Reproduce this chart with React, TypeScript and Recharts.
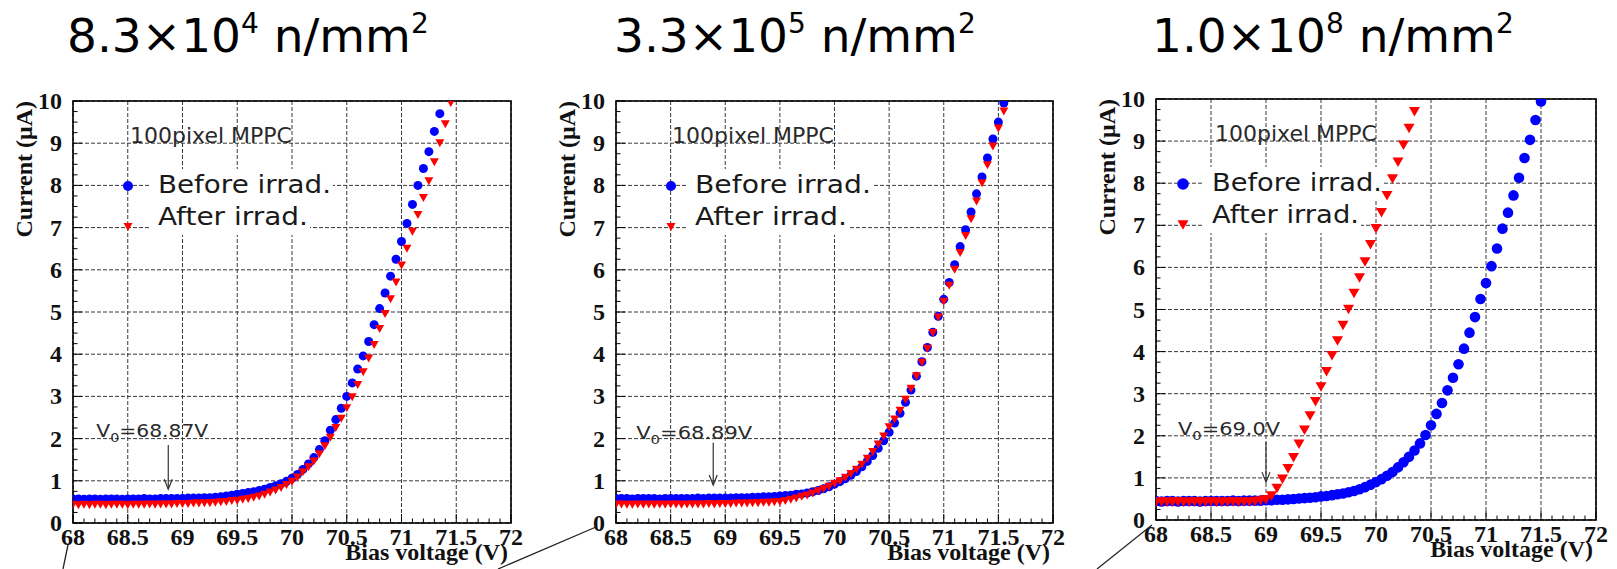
import React from "react";
import {
  ScatterChart,
  Scatter,
  XAxis,
  YAxis,
  CartesianGrid,
  ReferenceArea,
  ReferenceLine,
} from "recharts";

// Bias voltage scan points (V)
const VOLTS = [
  68, 68.05, 68.1, 68.15, 68.2, 68.25, 68.3, 68.35, 68.4, 68.45,
  68.5, 68.55, 68.6, 68.65, 68.7, 68.75, 68.8, 68.85, 68.9, 68.95,
  69, 69.05, 69.1, 69.15, 69.2, 69.25, 69.3, 69.35, 69.4, 69.45,
  69.5, 69.55, 69.6, 69.65, 69.7, 69.75, 69.8, 69.85, 69.9, 69.95,
  70, 70.05, 70.1, 70.15, 70.2, 70.25, 70.3, 70.35, 70.4, 70.45,
  70.5, 70.55, 70.6, 70.65, 70.7, 70.75, 70.8, 70.85, 70.9, 70.95,
  71, 71.05, 71.1, 71.15, 71.2, 71.25, 71.3, 71.35, 71.4, 71.45,
  71.5, 71.55,
];

// Current (uA), 8.3e4 n/mm2
const BEFORE_LOW = [
  0.57, 0.57, 0.56, 0.57, 0.57, 0.56, 0.57, 0.57, 0.57, 0.56,
  0.57, 0.57, 0.57, 0.58, 0.57, 0.57, 0.58, 0.58, 0.58, 0.58,
  0.58, 0.59, 0.59, 0.59, 0.6, 0.6, 0.61, 0.62, 0.64, 0.66,
  0.68, 0.7, 0.72, 0.74, 0.77, 0.8, 0.84, 0.88, 0.93, 0.99,
  1.06, 1.15, 1.27, 1.4, 1.55, 1.74, 1.95, 2.2, 2.45, 2.72,
  3.0, 3.32, 3.65, 3.96, 4.3, 4.7, 5.08, 5.45, 5.85, 6.25,
  6.67, 7.1, 7.55, 8.0, 8.4, 8.8, 9.28, 9.7,
];
const AFTER_LOW = [
  0.43, 0.42, 0.43, 0.42, 0.43, 0.43, 0.42, 0.43, 0.43, 0.43,
  0.42, 0.43, 0.43, 0.43, 0.44, 0.43, 0.44, 0.44, 0.44, 0.45,
  0.45, 0.45, 0.46, 0.46, 0.47, 0.47, 0.48, 0.49, 0.5, 0.52,
  0.53, 0.55, 0.57, 0.6, 0.63, 0.67, 0.72, 0.77, 0.83, 0.9,
  0.98, 1.08, 1.2, 1.32, 1.46, 1.63, 1.82, 2.02, 2.25, 2.47,
  2.72, 2.98, 3.27, 3.57, 3.9, 4.22, 4.6, 4.95, 5.3, 5.7,
  6.1, 6.5, 6.9, 7.3, 7.7, 8.1, 8.55, 9.0, 9.45, 9.95,
];

// Current (uA), 3.3e5 n/mm2
const BEFORE_MID = [
  0.58, 0.58, 0.58, 0.57, 0.58, 0.58, 0.58, 0.58, 0.57, 0.58,
  0.58, 0.58, 0.58, 0.58, 0.58, 0.59, 0.58, 0.59, 0.59, 0.59,
  0.59, 0.59, 0.6, 0.6, 0.6, 0.61, 0.61, 0.62, 0.62, 0.63,
  0.64, 0.65, 0.66, 0.68, 0.69, 0.71, 0.74, 0.77, 0.81, 0.86,
  0.92, 0.98, 1.05, 1.13, 1.22, 1.33, 1.46, 1.6, 1.77, 1.95,
  2.15, 2.37, 2.6, 2.86, 3.15, 3.48, 3.82, 4.16, 4.52, 4.9,
  5.3, 5.7, 6.12, 6.55, 6.95, 7.37, 7.8, 8.2, 8.65, 9.1,
  9.5, 9.95,
];
const AFTER_MID = [
  0.43, 0.44, 0.43, 0.43, 0.44, 0.43, 0.44, 0.43, 0.44, 0.43,
  0.44, 0.44, 0.43, 0.44, 0.44, 0.44, 0.44, 0.45, 0.44, 0.45,
  0.45, 0.45, 0.46, 0.46, 0.46, 0.47, 0.47, 0.48, 0.48, 0.49,
  0.5, 0.52, 0.55, 0.58, 0.62, 0.65, 0.7, 0.75, 0.8, 0.86,
  0.93, 0.99, 1.07, 1.16, 1.26, 1.38, 1.52, 1.68, 1.86, 2.05,
  2.27, 2.45, 2.66, 2.92, 3.18, 3.48, 3.8, 4.13, 4.5, 4.87,
  5.24, 5.62, 6.0, 6.4, 6.8, 7.2, 7.62, 8.05, 8.48, 8.92,
  9.35, 9.75,
];

// Current (uA), 1.0e8 n/mm2
const BEFORE_HIGH = [
  0.45, 0.44, 0.45, 0.45, 0.44, 0.45, 0.45, 0.45, 0.44, 0.45,
  0.45, 0.45, 0.45, 0.45, 0.46, 0.45, 0.46, 0.46, 0.46, 0.46,
  0.47, 0.47, 0.48, 0.48, 0.49, 0.5, 0.51, 0.52, 0.53, 0.54,
  0.56, 0.57, 0.59, 0.61, 0.63, 0.66, 0.69, 0.73, 0.78, 0.84,
  0.9, 0.97, 1.05, 1.14, 1.25, 1.37, 1.5, 1.65, 1.82, 2.02,
  2.25, 2.52, 2.78, 3.08, 3.38, 3.7, 4.07, 4.45, 4.82, 5.25,
  5.63, 6.03, 6.45, 6.92, 7.3, 7.71, 8.13, 8.6, 9.03, 9.5,
  9.94,
];
const AFTER_HIGH = [
  0.42, 0.43, 0.42, 0.42, 0.43, 0.42, 0.42, 0.43, 0.42, 0.42,
  0.43, 0.42, 0.42, 0.43, 0.43, 0.42, 0.43, 0.43, 0.44, 0.45,
  0.48, 0.57, 0.75, 0.97, 1.22, 1.48, 1.8, 2.13, 2.47, 2.81,
  3.16, 3.52, 3.9, 4.25, 4.62, 5.0, 5.38, 5.75, 6.13, 6.54,
  6.92, 7.3, 7.7, 8.1, 8.5, 8.9, 9.3, 9.7,
];

const MANTISSAS = ["8.3", "3.3", "1.0"];
const EXPONENTS = ["4", "5", "8"];
const V0_VALUES = [68.87, 68.89, 69.0];
const V0_TEXT = ["68.87V", "68.89V", "69.0V"];

const X_MAJOR = [68, 68.5, 69, 69.5, 70, 70.5, 71, 71.5, 72];
const Y_MAJOR = [0, 1, 2, 3, 4, 5, 6, 7, 8, 9, 10];
const X_MINOR = [
  68.1, 68.2, 68.3, 68.4, 68.6, 68.7, 68.8, 68.9,
  69.1, 69.2, 69.3, 69.4, 69.6, 69.7, 69.8, 69.9,
  70.1, 70.2, 70.3, 70.4, 70.6, 70.7, 70.8, 70.9,
  71.1, 71.2, 71.3, 71.4, 71.6, 71.7, 71.8, 71.9,
];
const Y_MINOR = [
  0.25, 0.5, 0.75, 1.25, 1.5, 1.75, 2.25, 2.5, 2.75, 3.25, 3.5, 3.75,
  4.25, 4.5, 4.75, 5.25, 5.5, 5.75, 6.25, 6.5, 6.75, 7.25, 7.5, 7.75,
  8.25, 8.5, 8.75, 9.25, 9.5, 9.75,
];

const SERIES = [
  [BEFORE_LOW, AFTER_LOW],
  [BEFORE_MID, AFTER_MID],
  [BEFORE_HIGH, AFTER_HIGH],
];

const BLUE = "#0000ff";
const RED = "#ff0000";
const SERIF = "'Liberation Serif', 'Times New Roman', serif";
const SANS = "'DejaVu Sans', Verdana, sans-serif";
const TICK_GAP = 6;

// per-panel placement
const LAYOUT = [
  {
    left: 0, width: 560, margin: { top: 101, right: 49, bottom: 6, left: 23 },
    titleX: 67, dot: 4.5, triW: 9, triH: 8,
    markX: 55, textX: 85, legendFont: 25.5, beforeLen: 173, afterLen: 150, mppcX: 57,
    arrowTop: 1.85, arrowTip: 0.8, v0dx: -72, v0dy: -8, v0Len: 112,
  },
  {
    left: 540, width: 540, margin: { top: 101, right: 27, bottom: 6, left: 26 },
    titleX: 614, dot: 4.5, triW: 9, triH: 8,
    markX: 55, textX: 79, legendFont: 25.5, beforeLen: 176, afterLen: 152, mppcX: 56,
    arrowTop: 1.9, arrowTip: 0.9, v0dx: -77, v0dy: -4, v0Len: 116,
  },
  {
    left: 1086, width: 531, margin: { top: 99, right: 21, bottom: 9, left: 20 },
    titleX: 1152, dot: 5.3, triW: 11, triH: 9.5,
    markX: 27, textX: 56, legendFont: 25, beforeLen: 170, afterLen: 147, mppcX: 59,
    arrowTop: 1.85, arrowTip: 0.9, v0dx: -88, v0dy: -7, v0Len: 102,
  },
];

const toPoints = (ys: number[]) => ys.map((y, i) => ({ x: VOLTS[i], y }));

function XTick(props: any) {
  const { x, y, payload } = props;
  const axisY = y - TICK_GAP;
  return (
    <g>
      <line x1={x} x2={x} y1={axisY} y2={axisY - 9} stroke="#000" strokeWidth={1} />
      <text x={x} y={axisY + 22} textAnchor="middle" fontFamily={SERIF} fontWeight="bold" fontSize={24} fill="#111">
        {String(payload.value)}
      </text>
    </g>
  );
}

function YTick(props: any) {
  const { x, y, payload } = props;
  const axisX = x + TICK_GAP;
  return (
    <g>
      <line x1={axisX} x2={axisX + 9} y1={y} y2={y} stroke="#000" strokeWidth={1} />
      <text x={axisX - 11} y={y + 8} textAnchor="end" fontFamily={SERIF} fontWeight="bold" fontSize={24} fill="#111">
        {String(payload.value)}
      </text>
    </g>
  );
}

// short inward tick at the bottom / left edge of a full-height reference line
const minorXTick = (p: any) => {
  const yb = Math.max(p.y1, p.y2);
  return <line x1={p.x1} x2={p.x1} y1={yb} y2={yb - 4.5} stroke="#000" strokeWidth={1} />;
};
const minorYTick = (p: any) => {
  const xl = Math.min(p.x1, p.x2);
  return <line x1={xl} x2={xl + 4.5} y1={p.y1} y2={p.y1} stroke="#000" strokeWidth={1} />;
};

const circleShape = (r: number) => (p: any) => <circle cx={p.cx} cy={p.cy} r={r} fill={BLUE} />;
const triangleShape = (w: number, h: number) => (p: any) => (
  <polygon
    points={`${p.cx - w / 2},${p.cy - h / 2} ${p.cx + w / 2},${p.cy - h / 2} ${p.cx},${p.cy + h / 2}`}
    fill={RED}
  />
);

function Panel({ idx }: { idx: number }) {
  const L = LAYOUT[idx];
  const [before, after] = SERIES[idx];

  // legend block drawn relative to the plot area
  const legendShape = (p: any) => {
    const x0 = p.x;
    const y0 = p.y;
    const tx = x0 + L.textX;
    const mx = x0 + L.markX;
    return (
      <g>
        <text x={x0 + L.mppcX} y={y0 + 42} fontFamily={SANS} fontSize={21} fill="#2a2a2a" textLength={162} lengthAdjust="spacingAndGlyphs">
          100pixel MPPC
        </text>
        <rect x={tx - 8} y={y0 + 68} width={L.beforeLen + 10} height={32} fill="#fff" />
        <rect x={tx - 8} y={y0 + 100} width={L.afterLen + 10} height={34} fill="#fff" />
        <circle cx={mx} cy={y0 + 85} r={L.dot + 0.5} fill={BLUE} />
        <polygon
          points={`${mx - L.triW / 2},${y0 + 126 - L.triH / 2} ${mx + L.triW / 2},${y0 + 126 - L.triH / 2} ${mx},${y0 + 126 + L.triH / 2}`}
          fill={RED}
        />
        <text x={tx} y={y0 + 92} fontFamily={SANS} fontSize={L.legendFont} fill="#1a1a1a" textLength={L.beforeLen} lengthAdjust="spacingAndGlyphs">
          Before irrad.
        </text>
        <text x={tx} y={y0 + 124} fontFamily={SANS} fontSize={L.legendFont} fill="#1a1a1a" textLength={L.afterLen} lengthAdjust="spacingAndGlyphs">
          After irrad.
        </text>
      </g>
    );
  };

  // V0 arrow with its label
  const arrowShape = (p: any) => (
    <g>
      <line x1={p.x1} y1={p.y1} x2={p.x2} y2={p.y2} stroke="#333" strokeWidth={1.2} />
      <polyline
        points={`${p.x2 - 4},${p.y2 - 10} ${p.x2},${p.y2} ${p.x2 + 4},${p.y2 - 10}`}
        fill="none"
        stroke="#333"
        strokeWidth={1.2}
      />
      <text x={p.x1 + L.v0dx} y={p.y1 + L.v0dy} fontFamily={SANS} fontSize={17} fill="#2a2a2a" textLength={L.v0Len} lengthAdjust="spacingAndGlyphs">
        V<tspan fontSize={12} dy={5}>0</tspan>
        <tspan dy={-5}>={V0_TEXT[idx]}</tspan>
      </text>
    </g>
  );

  // frame and axis titles
  const frameShape = (p: any) => (
    <g>
      <rect x={p.x} y={p.y} width={p.width} height={p.height} fill="none" stroke="#000" strokeWidth={1.6} />
      <text
        transform={`translate(${p.x - 41},${p.y}) rotate(-90)`}
        textAnchor="end"
        fontFamily={SERIF}
        fontWeight="bold"
        fontSize={24}
        fill="#111"
      >
        Current (μA)
      </text>
      <text x={p.x + p.width - 3} y={p.y + p.height + 37} textAnchor="end" fontFamily={SERIF} fontWeight="bold" fontSize={24} fill="#111">
        Bias voltage (V)
      </text>
    </g>
  );

  return (
    <div style={{ position: "absolute", left: L.left, top: 0 }}>
      <ScatterChart width={L.width} height={569} margin={L.margin}>
        <CartesianGrid stroke="#3a3a3a" strokeWidth={1} strokeDasharray="4 2" />
        <XAxis
          type="number"
          dataKey="x"
          domain={[68, 72]}
          allowDataOverflow
          ticks={X_MAJOR}
          interval={0}
          tickLine={false}
          axisLine={false}
          tickSize={0}
          tickMargin={TICK_GAP}
          height={40}
          tick={(p: any) => <XTick {...p} />}
        />
        <YAxis
          type="number"
          dataKey="y"
          domain={[0, 10]}
          allowDataOverflow
          ticks={Y_MAJOR}
          interval={0}
          tickLine={false}
          axisLine={false}
          tickSize={0}
          tickMargin={TICK_GAP}
          width={50}
          tick={(p: any) => <YTick {...p} />}
        />
        {X_MINOR.map((v) => (
          <ReferenceLine key={`mx${v}`} x={v} shape={minorXTick} />
        ))}
        {Y_MINOR.map((v) => (
          <ReferenceLine key={`my${v}`} y={v} shape={minorYTick} />
        ))}
        <ReferenceArea x1={68} x2={72} y1={0} y2={10} shape={legendShape} />
        <ReferenceLine
          segment={[
            { x: V0_VALUES[idx], y: L.arrowTop },
            { x: V0_VALUES[idx], y: L.arrowTip },
          ]}
          shape={arrowShape}
        />
        <Scatter name="Before irrad." data={toPoints(before)} shape={circleShape(L.dot)} isAnimationActive={false} />
        <Scatter name="After irrad." data={toPoints(after)} shape={triangleShape(L.triW, L.triH)} isAnimationActive={false} />
        <ReferenceArea x1={68} x2={72} y1={0} y2={10} shape={frameShape} />
      </ScatterChart>
    </div>
  );
}

export default function App() {
  return (
    <div style={{ position: "absolute", left: 0, top: 0, width: 1617, height: 569, background: "#fff", overflow: "hidden" }}>
      {[0, 1, 2].map((i) => (
        <Panel key={i} idx={i} />
      ))}
      <svg width={1617} height={569} style={{ position: "absolute", left: 0, top: 0, pointerEvents: "none" }}>
        {MANTISSAS.map((m, i) => (
          <text key={m + i} x={LAYOUT[i].titleX} y={52} fontFamily={SANS} fontSize={47} fill="#000">
            {m}×10<tspan fontSize={28} dy={-19}>{EXPONENTS[i]}</tspan>
            <tspan fontSize={47} dy={19}> n/mm</tspan>
            <tspan fontSize={28} dy={-19}>2</tspan>
          </text>
        ))}
        {/* leader lines running off the bottom edge */}
        <line x1={68} y1={545} x2={63} y2={569} stroke="#222" strokeWidth={1.3} />
        <line x1={596} y1={527} x2={498} y2={569} stroke="#222" strokeWidth={1.3} />
        <line x1={1152} y1={525} x2={1097} y2={569} stroke="#222" strokeWidth={1.3} />
      </svg>
    </div>
  );
}
